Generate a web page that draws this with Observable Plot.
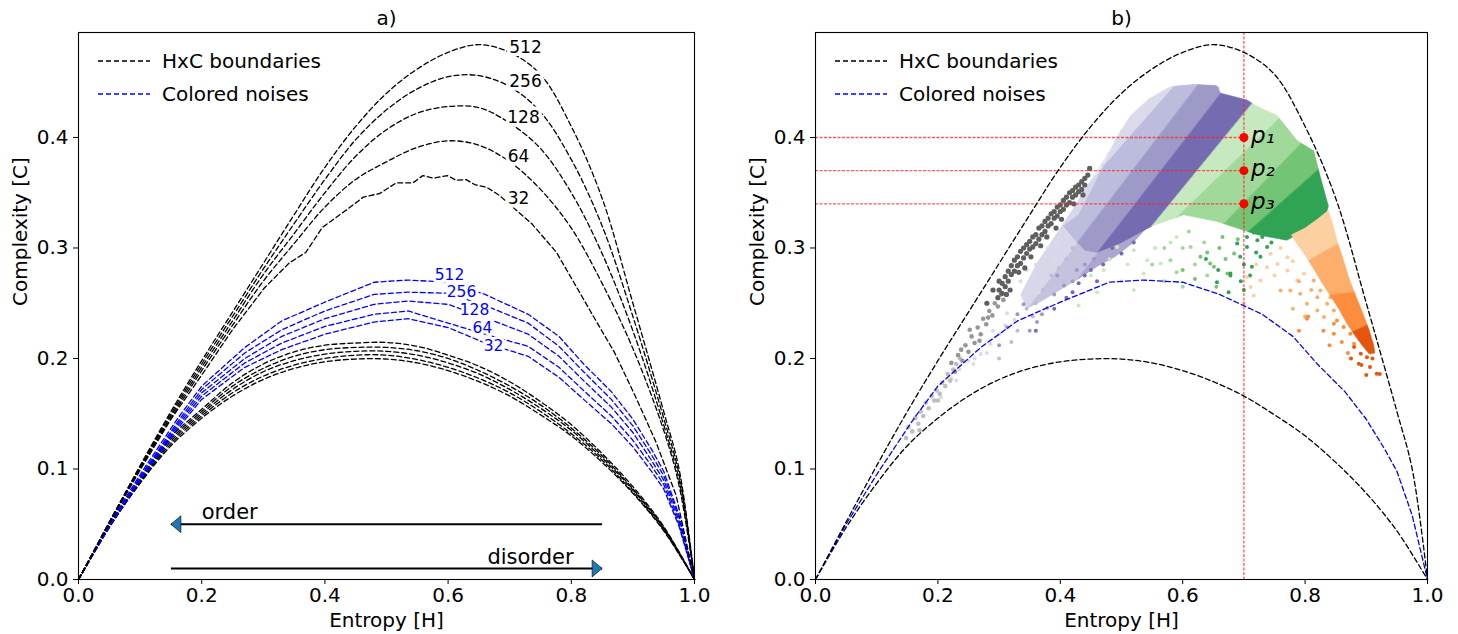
<!DOCTYPE html>
<html><head><meta charset="utf-8">
<script src="https://cdn.jsdelivr.net/npm/d3@7"></script>
<script src="https://cdn.jsdelivr.net/npm/@observablehq/plot@0.6"></script>
<style>
body{margin:0;background:#fff;}
#wrap{display:flex;width:1458px;height:634px;}
</style></head><body><div id="wrap"></div>
<script>
// ---------- data ----------
const X_TICKS = [0, 0.2, 0.4, 0.6, 0.8, 1.0];
const Y_TICKS = [0, 0.1, 0.2, 0.3, 0.4];
const Y_MAX = 0.495;
const SIZES = ["512", "256", "128", "64", "32"];
const TITLES = ["a)", "b)"];
const X_LABEL = "Entropy [H]";
const Y_LABEL = "Complexity [C]";
const LEGEND_LABELS = ["HxC boundaries", "Colored noises"];

// upper (maximum complexity) boundaries
const UPPER_H = [0,.05,.1,.15,.2,.25,.3,.35,.4,.45,.5,.55,.6,.65,.7,.75,.8,.85,.9,.95,.975,1];
const UPPER_512 = [0,.052,.103,.152,.198,.242,.286,.33,.373,.41,.44,.462,.477,.484,.477,.457,.41,.345,.25,.152,.1,0];
const UPPER_256 = [0,.052,.102,.15,.195,.238,.281,.322,.362,.398,.425,.444,.455,.456,.446,.423,.38,.32,.238,.146,.095,0];
const UPPER_128 = [0,.051,.101,.148,.192,.234,.276,.313,.35,.383,.407,.422,.428,.427,.413,.39,.35,.295,.225,.14,.09,0];
const UPPER_64  = [0,.051,.1,.146,.189,.23,.27,.304,.337,.362,.378,.391,.397,.393,.378,.353,.318,.268,.209,.135,.085,0];
const UPPER_32_H = [0,.05,.1,.15,.2,.25,.302,.342,.369,.396,.436,.4626,.489,.516,.543,.559,.576,.599,.613,.6295,.643,.663,.683,.703,.736,.776,.803,.836,.87,.903,.937,.97,1];
const UPPER_32_C = [0,.051,.099,.145,.185,.226,.264,.2864,.296,.3187,.3348,.3461,.3493,.359,.359,.3655,.3632,.3655,.3613,.3619,.3574,.3548,.3477,.338,.3219,.296,.27,.238,.2056,.167,.125,.0765,0];

// lower (minimum complexity) boundaries
const LOWER_H = [0,.05,.1,.15,.2,.25,.3,.35,.4,.45,.5,.55,.6,.65,.7,.75,.8,.85,.9,.95,1];
const LOWER_A = [0,.047,.087,.121,.146,.166,.181,.191,.197,.1995,.1995,.196,.189,.179,.166,.149,.13,.106,.078,.044,0];
const LOWER_B = [0,.047,.088,.123,.148,.169,.184,.194,.2,.203,.203,.199,.192,.182,.169,.152,.132,.108,.079,.045,0];
const LOWER_C = [0,.048,.089,.125,.15,.172,.188,.198,.204,.2065,.2065,.203,.196,.186,.172,.155,.135,.11,.081,.046,0];
const LOWER_D = [0,.048,.09,.127,.152,.175,.191,.202,.208,.21,.21,.207,.2,.189,.175,.158,.137,.112,.082,.047,0];
const LOWER_E = [0,.049,.091,.129,.154,.178,.195,.206,.212,.214,.2145,.211,.203,.193,.179,.161,.14,.114,.084,.048,0];

// colored noises
const NOISE_H = [0,.05,.1,.16,.2,.27,.33,.4,.48,.535,.6,.66,.73,.78,.82,.865,.9,.93,.95,.975,1];
const NOISE_512 = [0,.05,.095,.145,.175,.21,.234,.251,.269,.271,.269,.258,.240,.22,.195,.17,.145,.118,.098,.058,0];
const NOISE_256 = [0,.049,.093,.142,.172,.205,.226,.243,.258,.260,.259,.248,.232,.211,.188,.163,.139,.113,.094,.056,0];
const NOISE_128 = [0,.049,.092,.14,.169,.2,.22,.236,.249,.252,.249,.237,.222,.202,.18,.156,.133,.108,.09,.053,0];
const NOISE_64  = [0,.048,.091,.138,.166,.196,.214,.229,.24,.243,.232,.222,.211,.192,.171,.148,.126,.103,.086,.05,0];
const NOISE_32  = [0,.048,.09,.136,.163,.192,.208,.222,.233,.236,.228,.214,.202,.183,.163,.141,.12,.098,.082,.048,0];

// inline curve labels (panel a)
const BLACK_LABEL_H = [0.7256, 0.7256, 0.7224, 0.7143, 0.7143];
const BLACK_LABEL_C = [0.4814, 0.4507, 0.4181, 0.3828, 0.3448];
const BLUE_LABEL_H = [0.6023, 0.6218, 0.6429, 0.6558, 0.6737];
const BLUE_LABEL_C = [0.2755, 0.2597, 0.2434, 0.2275, 0.2112];

// arrows (panel a)
const ARROW_FROM = [0.85, 0.15];
const ARROW_TO = [0.15, 0.85];
const ARROW_C = [0.05, 0.01];
const ARROW_TEXT = ["order", "disorder"];
const ARROW_TEXT_H = [0.2, 0.8036];
const ARROW_TEXT_C = [0.0606, 0.0199];

// panel b: reference points
const P_H = 0.7;
const P_C = [0.4, 0.37, 0.34];
const P_LABELS = ["p\u2081", "p\u2082", "p\u2083"];

// panel b: dense cloud outline and colour boundaries
const CLOUD = [[.43,.33],[.46,.362],[.49,.398],[.515,.42],[.545,.435],[.58,.446],[.618,.448],[.655,.447],[.662,.44],[.705,.434],[.719,.429],[.738,.424],[.754,.42],[.77,.409],[.787,.397],[.814,.388],[.825,.364],[.838,.338],[.834,.33],[.80,.316],[.77,.307],[.722,.312],[.70,.316],[.656,.324],[.602,.33],[.55,.32],[.50,.305],[.46,.296],[.44,.298],[.42,.31],[.405,.32]];
const SEMI_CLOUD = [[.335,.258],[.36,.285],[.39,.31],[.42,.335],[.45,.362],[.48,.388],[.51,.41],[.545,.433],[.58,.446],[.62,.448],[.66,.446],[.66,.43],[.62,.38],[.56,.33],[.52,.305],[.49,.292],[.46,.283],[.43,.272],[.40,.262],[.37,.252],[.345,.245]];
const CLOUD_LINES = [
  [[.4167,.34],[.58,.4426]],
  [[.4547,.3242],[.618,.4426]],
  [[.493,.3188],[.662,.4395]],
  [[.55,.32],[.717,.433]],
  [[.602,.334],[.76,.4184]],
  [[.6727,.325],[.7925,.394]],
  [[.7216,.3218],[.814,.3671]]
];
const CLOUD_COLORS = ["#dadaeb","#bcbddc","#9e9ac8","#756bb1","#c7e9c0","#a1d99b","#74c476","#31a354"];
const ORANGE = [[.778,.312],[.80,.318],[.82,.326],[.838,.334],[.845,.322],[.853,.305],[.862,.29],[.872,.272],[.884,.255],[.895,.24],[.905,.225],[.912,.212],[.914,.205],[.905,.204],[.893,.212],[.88,.222],[.868,.232],[.855,.245],[.84,.258],[.826,.27],[.812,.283],[.797,.296],[.785,.305]];
const ORANGE_LINES = [
  [[.78,.28],[.86,.306]],
  [[.8,.255],[.88,.26]],
  [[.86,.22],[.91,.232]]
];
const ORANGE_COLORS = ["#fdd0a2","#fdae6b","#fd8d3c","#e6550d"];

// panel b: sparse points
const GRAY_LIGHT = [[.148,.128],[.152,.138],[.158,.134],[.163,.146],[.168,.141],[.172,.152],[.176,.148],[.18,.16],[.185,.155],[.19,.166],[.194,.162],[.198,.171],[.203,.168],[.207,.178],[.212,.175],[.216,.186],[.22,.18],[.225,.19],[.23,.195],[.236,.2],[.17,.135],[.2,.162]];
const GRAY_MID = [[.222,.196],[.228,.188],[.233,.203],[.24,.198],[.245,.212],[.25,.206],[.255,.22],[.26,.214],[.265,.228],[.27,.222],[.274,.236],[.279,.231],[.284,.243],[.289,.239],[.293,.25],[.298,.247],[.303,.258],[.307,.253],[.252,.226],[.268,.216],[.238,.208],[.282,.237]];
const GRAY_DARK = [[.300,.262],[.300,.270],[.305,.268],[.305,.259],[.310,.274],[.310,.265],[.315,.270],[.315,.279],[.320,.284],[.320,.276],[.325,.279],[.325,.289],[.330,.292],[.330,.284],[.335,.286],[.335,.297],[.340,.300],[.340,.291],[.345,.295],[.345,.303],[.350,.306],[.350,.299],[.355,.301],[.355,.310],[.360,.312],[.360,.304],[.365,.308],[.365,.318],[.370,.320],[.370,.312],[.375,.315],[.375,.324],[.380,.327],[.380,.320],[.385,.322],[.385,.331],[.390,.333],[.390,.327],[.395,.329],[.395,.337],[.400,.339],[.400,.333],[.405,.335],[.405,.343],[.410,.346],[.410,.339],[.415,.341],[.415,.350],[.420,.352],[.420,.346],[.425,.348],[.425,.355],[.430,.357],[.430,.351],[.435,.353],[.435,.360],[.440,.363],[.440,.357],[.445,.366],[.448,.372],[.29,.262],[.28,.25],[.318,.262],[.342,.282],[.368,.302],[.393,.318],[.332,.278],[.352,.292],[.378,.31],[.402,.326],[.422,.34],[.437,.348],[.312,.258],[.298,.255]];
const LAV_1 = [[.205,.165],[.222,.182],[.235,.19],[.25,.198],[.258,.195],[.27,.204],[.286,.213],[.3,.222],[.313,.241],[.325,.235],[.335,.27],[.34,.255],[.35,.262],[.355,.275],[.36,.285],[.37,.27],[.375,.292],[.38,.3],[.39,.29],[.395,.305],[.4,.315],[.41,.31],[.415,.325],[.42,.33],[.43,.318],[.44,.34],[.45,.35],[.46,.36],[.47,.375],[.48,.385],[.49,.39],[.5,.405],[.47,.36],[.455,.338],[.365,.26],[.345,.28],[.31,.23],[.28,.205],[.23,.18],[.26,.2],[.29,.225]];
const LAV_2 = [[.3,.2],[.33,.225],[.345,.245],[.36,.25],[.372,.262],[.385,.275],[.398,.282],[.41,.29],[.42,.3],[.43,.305],[.44,.32],[.45,.325],[.46,.335],[.475,.35],[.49,.365],[.5,.38],[.51,.39],[.355,.238],[.32,.215],[.405,.27],[.44,.3]];
const LAV_3 = [[.34,.249],[.362,.233],[.313,.228],[.379,.246],[.406,.266],[.427,.28],[.44,.285],[.455,.29],[.39,.258],[.37,.24],[.35,.225],[.3,.212],[.42,.27],[.465,.305],[.48,.315],[.395,.275],[.33,.24]];
const LAV_4 = [[.45,.28],[.47,.285],[.43,.268],[.41,.255],[.48,.29],[.46,.27],[.5,.295],[.39,.245],[.36,.225],[.52,.305],[.44,.275],[.42,.26],[.485,.3]];
const GREEN_1 = [[.43,.248],[.46,.26],[.471,.28],[.493,.301],[.52,.298],[.536,.277],[.542,.289],[.564,.286],[.5,.27],[.555,.3],[.58,.305],[.48,.29],[.51,.285],[.45,.275],[.52,.262],[.59,.31]];
const GREEN_2 = [[.58,.289],[.6,.3],[.613,.301],[.59,.278],[.62,.285],[.57,.27],[.635,.305],[.6,.265],[.55,.285],[.64,.275],[.61,.315],[.57,.3]];
const GREEN_3 = [[.629,.292],[.645,.286],[.651,.283],[.66,.3],[.673,.277],[.684,.295],[.665,.31],[.64,.296],[.69,.308],[.62,.272],[.655,.265],[.6,.28],[.67,.29]];
const GREEN_4 = [[.689,.304],[.694,.292],[.705,.301],[.713,.283],[.716,.314],[.722,.307],[.727,.292],[.738,.301],[.656,.269],[.678,.277],[.658,.28],[.638,.29],[.678,.275],[.7,.285],[.745,.305],[.73,.31],[.71,.275],[.675,.26],[.695,.27],[.7,.262],[.72,.296],[.705,.31]];
const ORANGE_1 = [[.7435,.2947],[.755,.2856],[.771,.2797],[.727,.2706],[.711,.2646],[.798,.2766],[.787,.2706],[.771,.2917],[.738,.2826],[.716,.2571],[.705,.2736],[.76,.3],[.78,.288],[.72,.285],[.75,.275],[.7,.25]];
const ORANGE_2 = [[.814,.2706],[.825,.2616],[.792,.2585],[.803,.2495],[.836,.2495],[.82,.2435],[.8415,.2555],[.776,.2616],[.76,.2616],[.82,.2555],[.847,.2435],[.831,.2375],[.81,.262],[.79,.27],[.78,.245],[.8,.238]];
const ORANGE_3 = [[.852,.2344],[.863,.2284],[.803,.236],[.847,.2224],[.874,.2224],[.88,.2133],[.863,.2405],[.885,.2375],[.847,.2314],[.805,.238],[.83,.225],[.86,.215],[.87,.205],[.84,.212],[.79,.225]];
const ORANGE_4 = [[.8878,.1952],[.906,.1922],[.917,.1861],[.891,.2043],[.901,.2012],[.88,.2103],[.892,.194],[.922,.186],[.9,.185],[.875,.2],[.91,.2]];

// ---------- helpers ----------
const pts = (H, C) => H.map((h, i) => ({H: h, C: C[i]}));
function clip(poly, A, B, sign) {
  const f = p => sign * ((B[0]-A[0])*(p[1]-A[1]) - (B[1]-A[1])*(p[0]-A[0]));
  const out = [];
  for (let i = 0; i < poly.length; i++) {
    const a = poly[i], b = poly[(i+1) % poly.length], fa = f(a), fb = f(b);
    if (fa >= 0) out.push(a);
    if ((fa >= 0) !== (fb >= 0)) { const t = fa/(fa-fb); out.push([a[0]+t*(b[0]-a[0]), a[1]+t*(b[1]-a[1])]); }
  }
  return out;
}
function bands(poly, lines, colors) {
  return colors.map((color, k) => {
    let p = poly;
    if (k > 0) p = clip(p, lines[k-1][0], lines[k-1][1], -1);
    if (k < lines.length) p = clip(p, lines[k][0], lines[k][1], 1);
    return {color, p};
  });
}
const DASH = "5,3";
const fmt = d3.format(".1f");
const triLeft = {draw(ctx){ ctx.moveTo(0,0); ctx.lineTo(10,-8.5); ctx.lineTo(10,8.5); ctx.closePath(); }};
const triRight = {draw(ctx){ ctx.moveTo(0,0); ctx.lineTo(-10,-8.5); ctx.lineTo(-10,8.5); ctx.closePath(); }};

function legendMark(index, scales, values, dims) {
  const g = d3.create("svg:g").attr("transform", `translate(${dims.marginLeft},${dims.marginTop})`);
  const cols = ["black", "blue"];
  LEGEND_LABELS.forEach((t, i) => {
    const y = 29 + 33*i;
    g.append("line").attr("x1", 20).attr("x2", 72).attr("y1", y).attr("y2", y)
      .attr("stroke", cols[i]).attr("stroke-width", 1.3).attr("stroke-dasharray", DASH);
    g.append("text").attr("x", 84).attr("y", y).attr("dy", "0.35em").attr("font-size", 20)
      .attr("text-anchor", "start").attr("fill", "black").text(t);
  });
  return g.node();
}

function common(title) {
  return [
    Plot.axisX(X_TICKS, {tickFormat: fmt, tickSize: 5, tickPadding: 3, label: null, fontSize: 20}),
    Plot.axisY(Y_TICKS, {tickFormat: fmt, tickSize: 5, tickPadding: 5, label: null, fontSize: 20}),
    Plot.text([X_LABEL], {text: d => d, frameAnchor: "bottom", dy: 41, lineAnchor: "middle", fontSize: 20}),
    Plot.text([Y_LABEL], {text: d => d, frameAnchor: "left", rotate: -90, dx: -58, lineAnchor: "middle", fontSize: 20}),
    Plot.text([title], {text: d => d, frameAnchor: "top", dy: -14, lineAnchor: "middle", fontSize: 20}),
    legendMark,
    Plot.frame({stroke: "black", strokeWidth: 1.1})
  ];
}
const base = (ml, mr) => ({
  width: 729, height: 634, marginLeft: ml, marginRight: mr, marginTop: 32, marginBottom: 55,
  x: {domain: [0, 1]}, y: {domain: [0, Y_MAX]},
  style: {fontFamily: "'DejaVu Sans', sans-serif", fontSize: "20px", background: "white", color: "black", overflow: "visible"}
});
const dash = (data, stroke, curve) => Plot.line(data, {x: "H", y: "C", stroke, strokeWidth: 1.3, strokeDasharray: DASH, curve});

// ---------- panel a ----------
const lowers = [LOWER_A, LOWER_B, LOWER_C, LOWER_D, LOWER_E];
const noises = [NOISE_512, NOISE_256, NOISE_128, NOISE_64, NOISE_32];
const uppers = [pts(UPPER_H, UPPER_512), pts(UPPER_H, UPPER_256), pts(UPPER_H, UPPER_128), pts(UPPER_H, UPPER_64)];
const blackLabels = SIZES.map((s, i) => ({s, H: BLACK_LABEL_H[i], C: BLACK_LABEL_C[i]}));
const blueLabels = SIZES.map((s, i) => ({s, H: BLUE_LABEL_H[i], C: BLUE_LABEL_C[i]}));
const arrows = ARROW_TEXT.map((t, i) => ({t, from: ARROW_FROM[i], to: ARROW_TO[i], C: ARROW_C[i], tH: ARROW_TEXT_H[i], tC: ARROW_TEXT_C[i]}));
const leftArrows = arrows.filter(d => d.to < d.from);
const rightArrows = arrows.filter(d => d.to > d.from);

const plotA = Plot.plot({
  ...base(78, 35),
  marks: [
    ...lowers.map(L => dash(pts(LOWER_H, L), "black", "catmull-rom")),
    ...noises.map(N => dash(pts(NOISE_H, N), "blue", "linear")),
    ...uppers.map(U => dash(U, "black", "catmull-rom")),
    dash(pts(UPPER_32_H, UPPER_32_C), "black", "linear"),
    Plot.text(blackLabels, {x: "H", y: "C", text: "s", fontSize: 17, fill: "black", stroke: "white", strokeWidth: 7}),
    Plot.text(blueLabels, {x: "H", y: "C", text: "s", fontSize: 15.5, fill: "blue", stroke: "white", strokeWidth: 6}),
    Plot.link(arrows, {x1: "from", x2: "to", y1: "C", y2: "C", stroke: "black", strokeWidth: 2}),
    Plot.dot(leftArrows, {x: "to", y: "C", symbol: triLeft, fill: "#1f77b4", stroke: "black", strokeWidth: 0.6}),
    Plot.dot(rightArrows, {x: "to", y: "C", symbol: triRight, fill: "#1f77b4", stroke: "black", strokeWidth: 0.6}),
    Plot.text(leftArrows, {x: "tH", y: "tC", text: "t", textAnchor: "start", fontSize: 21, lineAnchor: "middle"}),
    Plot.text(rightArrows, {x: "tH", y: "tC", text: "t", textAnchor: "end", fontSize: 21, lineAnchor: "middle"}),
    ...common(TITLES[0])
  ]
});

// ---------- panel b ----------
const semiBands = bands(SEMI_CLOUD, CLOUD_LINES.slice(0, 3), CLOUD_COLORS.slice(0, 4));
const cloudBands = [...bands(CLOUD, CLOUD_LINES, CLOUD_COLORS), ...bands(ORANGE, ORANGE_LINES, ORANGE_COLORS)];
const dotSets = [
  [LAV_1, "#dadaeb", 2], [LAV_2, "#bcbddc", 2], [LAV_3, "#9e9ac8", 2], [LAV_4, "#756bb1", 2],
  [GRAY_LIGHT, "#bdbdbd", 2.3], [GRAY_MID, "#969696", 2.3], [GRAY_DARK, "#5f5f5f", 2.6],
  [GREEN_1, "#c7e9c0", 2], [GREEN_2, "#a1d99b", 2], [GREEN_3, "#74c476", 2], [GREEN_4, "#31a354", 2],
  [ORANGE_1, "#fdd0a2", 2], [ORANGE_2, "#fdae6b", 2], [ORANGE_3, "#fd8d3c", 2], [ORANGE_4, "#e6550d", 2]
];
const pRows = P_C.map((c, i) => ({c, t: P_LABELS[i]}));

const plotB = Plot.plot({
  ...base(86, 31),
  marks: [
    ...semiBands.map(b => Plot.line(b.p, {x: d => d[0], y: d => d[1], fill: b.color, fillOpacity: 0.6, stroke: "none", curve: "linear-closed"})),
    ...dotSets.map(([d, col, r]) => Plot.dot(d, {x: d => d[0], y: d => d[1], r, fill: col})),
    ...cloudBands.map(b => Plot.line(b.p, {x: d => d[0], y: d => d[1], fill: b.color, stroke: b.color, strokeWidth: 0.6, curve: "linear-closed"})),
    Plot.ruleY(P_C, {x1: 0, x2: P_H, stroke: "#ff2020", strokeWidth: 1.3, strokeDasharray: "3,1.5", strokeOpacity: 0.75}),
    Plot.ruleX([P_H], {stroke: "#ff2020", strokeWidth: 1.3, strokeDasharray: "3,1.5", strokeOpacity: 0.75}),
    dash(pts(LOWER_H, LOWER_A), "black", "catmull-rom"),
    dash(pts(NOISE_H, NOISE_512), "blue", "linear"),
    dash(pts(UPPER_H, UPPER_512), "black", "catmull-rom"),
    Plot.dot(pRows, {x: () => P_H, y: "c", r: 4.5, fill: "red"}),
    Plot.text(pRows, {x: () => P_H, y: "c", text: "t", textAnchor: "start", dx: 7, dy: -2, fontSize: 23, fontStyle: "italic", lineAnchor: "middle"}),
    ...common(TITLES[1])
  ]
});

document.getElementById("wrap").append(plotA, plotB);
</script></body></html>
